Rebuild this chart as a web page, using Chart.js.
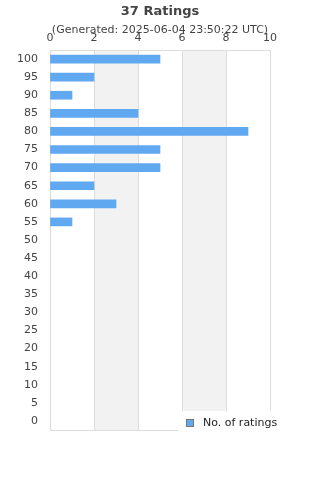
<!DOCTYPE html>
<html>
<head>
<meta charset="utf-8">
<script src="https://cdn.jsdelivr.net/npm/chart.js@4"></script>
<style>
  html, body { margin: 0; padding: 0; background: #fff; }
  #wrap { width: 320px; height: 480px; }
</style>
</head>
<body>
<div id="wrap"><canvas id="ratingsChart"></canvas></div>
<script>
const categories = ['100', '95', '90', '85', '80', '75', '70', '65', '60', '55', '50',
                    '45', '40', '35', '30', '25', '20', '15', '10', '5', '0'];
const ratingCounts = [5, 2, 1, 4, 9, 5, 5, 2, 3, 1, 0, 0, 0, 0, 0, 0, 0, 0, 0, 0, 0];
const xTicks = [0, 2, 4, 6, 8, 10];
const shadedBands = [[2, 4], [6, 8]];
const titleText = '37 Ratings';
const subtitleText = '(Generated: 2025-06-04 23:50:22 UTC)';

const barColor = '#60a8f0';
const font = 'DejaVu Sans';

// Alternating grey bands behind the grid
const bandsPlugin = {
    id: 'bands',
    beforeDraw(chart) {
        const { ctx, chartArea, scales } = chart;
        ctx.save();
        ctx.fillStyle = '#f2f2f2';
        shadedBands.forEach(([a, b]) => {
            const x1 = scales.x.getPixelForValue(a);
            const x2 = scales.x.getPixelForValue(b);
            ctx.fillRect(x1, chartArea.top, x2 - x1, chartArea.bottom - chartArea.top);
        });
        ctx.restore();
    }
};

// Title and subtitle centred on the whole canvas
const headingPlugin = {
    id: 'heading',
    afterDraw(chart) {
        const { ctx, width } = chart;
        ctx.save();
        ctx.fillStyle = '#444';
        ctx.textAlign = 'center';
        ctx.textBaseline = 'alphabetic';
        ctx.font = 'bold 13px "' + font + '"';
        ctx.fillText(titleText, width / 2, 15);
        ctx.font = '11px "' + font + '"';
        ctx.fillText(subtitleText, width / 2, 33);
        ctx.restore();
    }
};

// Right and bottom frame lines
const framePlugin = {
    id: 'frame',
    afterDatasetsDraw(chart) {
        const { ctx, chartArea } = chart;
        ctx.save();
        ctx.strokeStyle = '#dddddd';
        ctx.lineWidth = 1;
        ctx.beginPath();
        ctx.moveTo(chartArea.left, Math.round(chartArea.bottom) + 0.5);
        ctx.lineTo(chartArea.right, Math.round(chartArea.bottom) + 0.5);
        ctx.moveTo(Math.round(chartArea.right) + 0.5, chartArea.top);
        ctx.lineTo(Math.round(chartArea.right) + 0.5, chartArea.bottom);
        ctx.stroke();
        ctx.restore();
    }
};

// Legend box that sits over the bottom right of the plot
const legendBoxPlugin = {
    id: 'legendBox',
    afterDraw(chart) {
        const { ctx, chartArea } = chart;
        const ds = chart.data.datasets[0];
        ctx.save();
        ctx.fillStyle = '#fff';
        ctx.fillRect(178, chartArea.bottom - 19, 142, 40);
        ctx.fillStyle = barColor;
        ctx.fillRect(186.5, 419.5, 7, 7);
        ctx.strokeStyle = '#777';
        ctx.lineWidth = 1;
        ctx.strokeRect(186.5, 419.5, 7, 7);
        ctx.fillStyle = '#222';
        ctx.font = '11px "' + font + '"';
        ctx.textBaseline = 'middle';
        ctx.fillText(ds.label, 203, 423);
        ctx.restore();
    }
};

const ctx = document.getElementById('ratingsChart').getContext('2d');
new Chart(ctx, {
    type: 'bar',
    data: {
        labels: categories,
        datasets: [{
            label: 'No. of ratings',
            data: ratingCounts,
            backgroundColor: (c) => (c.raw ? barColor : 'rgba(0,0,0,0)'),
            borderWidth: 0,
            barThickness: 8
        }]
    },
    options: {
        indexAxis: 'y',
        responsive: true,
        maintainAspectRatio: false,
        animation: false,
        layout: {
            padding: { left: 0, right: 50, top: 32, bottom: 50 }
        },
        plugins: {
            legend: { display: false },
            tooltip: { enabled: false }
        },
        scales: {
            x: {
                position: 'top',
                min: 0,
                max: 10,
                afterBuildTicks: function(axis) {
                    axis.ticks = xTicks.map(v => ({ value: v }));
                },
                afterFit: function(axis) {
                    axis.height = 18;
                },
                grid: {
                    color: '#dddddd',
                    drawTicks: false
                },
                border: { color: '#dddddd' },
                ticks: {
                    color: '#444',
                    padding: 5,
                    font: { family: font, size: 11 }
                }
            },
            y: {
                afterFit: function(axis) {
                    axis.width = 50;
                },
                grid: { display: false, drawTicks: false },
                border: { color: '#dddddd' },
                ticks: {
                    color: '#444',
                    padding: 12,
                    autoSkip: false,
                    font: { family: font, size: 11 }
                }
            }
        }
    },
    plugins: [bandsPlugin, framePlugin, legendBoxPlugin, headingPlugin]
});
</script>
</body>
</html>
